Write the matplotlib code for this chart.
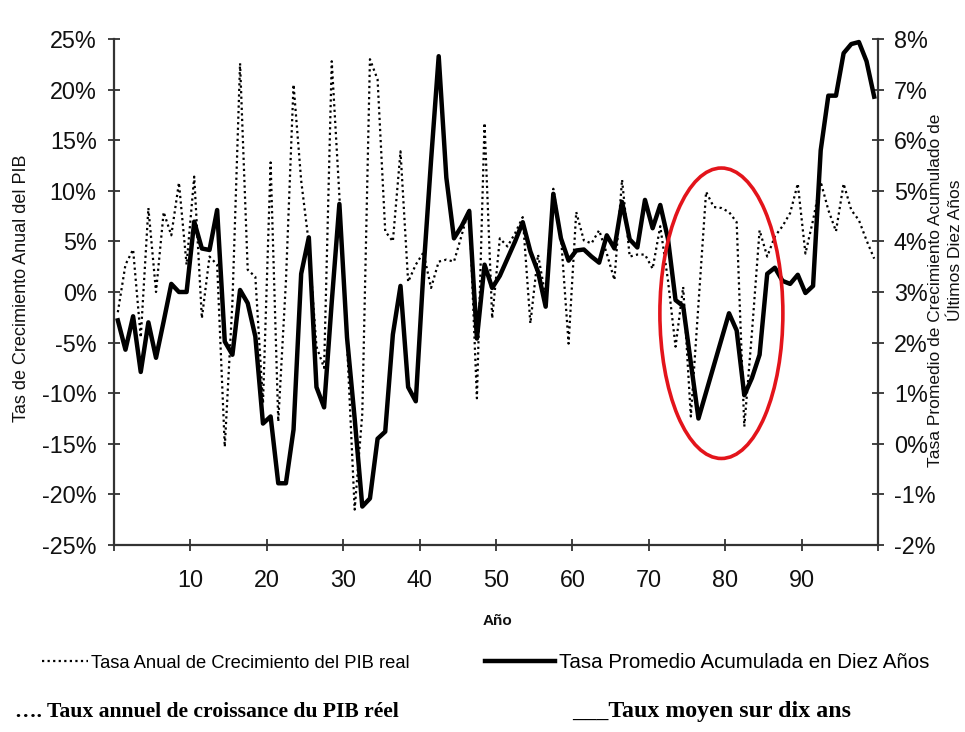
import matplotlib
matplotlib.use('Agg')
import matplotlib.pyplot as plt
from matplotlib.patches import Ellipse
from matplotlib import font_manager

# ---------------- data ----------------
years = list(range(100))  # category index (0..99)

annual_growth = [  # Tasa Anual de Crecimiento del PIB real (%), left axis
    -2.0, 2.7, 4.2, -4.5, 8.3, 0.0, 7.9, 5.6, 10.8, 2.7,
    11.4, -2.6, 3.5, 2.7, -15.3, -1.0, 22.6, 2.2, 1.5, -11.0,
    12.8, -12.8, 1.0, 20.5, 11.0, 4.8, -5.4, -7.5, 22.8, 9.5,
    -5.0, -21.5, -12.0, 23.0, 21.0, 6.0, 5.0, 13.9, 1.0, 2.7,
    3.9, 0.4, 3.0, 3.2, 3.0, 5.6, 8.3, -10.5, 16.7, -2.6,
    5.3, 4.5, 5.8, 7.4, -3.1, 3.7, -0.5, 10.2, 5.5, -5.1,
    7.9, 5.1, 4.8, 6.1, 3.8, 1.2, 11.1, 3.5, 3.7, 3.7,
    2.3, 6.5, 1.2, -5.4, 0.5, -12.3, -1.2, 9.9, 8.4, 8.3,
    7.9, 6.9, -13.3, -4.0, 6.1, 3.5, 5.5, 6.5, 7.8, 10.7,
    3.8, 7.1, 10.9, 8.1, 6.0, 10.7, 8.1, 7.1, 5.1, 3.3,
]

ten_year_avg = [  # Tasa Promedio Acumulada en Diez Años (%), right axis
    2.44, 1.86, 2.52, 1.42, 2.40, 1.70, 2.42, 3.16, 3.00, 3.00,
    4.39, 3.86, 3.83, 4.62, 2.02, 1.76, 3.04, 2.78, 2.12, 0.40,
    0.54, -0.78, -0.78, 0.28, 3.36, 4.08, 1.12, 0.72, 2.80, 4.74,
    2.10, 0.50, -1.24, -1.08, 0.10, 0.24, 2.16, 3.12, 1.12, 0.84,
    3.40, 5.60, 7.66, 5.26, 4.06, 4.30, 4.60, 2.08, 3.54, 3.08,
    3.32, 3.66, 4.00, 4.38, 3.80, 3.40, 2.71, 4.94, 4.06, 3.62,
    3.82, 3.84, 3.70, 3.58, 4.12, 3.86, 4.78, 4.04, 3.88, 4.82,
    4.26, 4.72, 4.06, 2.84, 2.72, 1.60, 0.50, 1.02, 1.54, 2.06,
    2.58, 2.24, 0.96, 1.30, 1.76, 3.36, 3.48, 3.22, 3.16, 3.34,
    2.98, 3.12, 5.80, 6.88, 6.88, 7.72, 7.90, 7.94, 7.56, 6.86,
]

left_ticks = list(range(-25, 30, 5))
right_ticks = list(range(-2, 9, 1))
x_ticks = list(range(0, 101, 10))
x_ticklabels = [''] + [str(v) for v in range(10, 100, 10)] + ['']

label_annual = 'Tasa Anual de Crecimiento del PIB real'
label_avg = 'Tasa Promedio Acumulada en Diez Años'
ylabel_left = 'Tas de Crecimiento Anual del PIB'
ylabel_right_1 = 'Tasa Promedio de Crecimiento Acumulado de'
ylabel_right_2 = 'Últimos Diez Años'
xlabel = 'Año'
fr_annual = '…. Taux annuel de croissance du PIB réel'
fr_avg = '___Taux moyen sur dix ans'

# highlight ellipse (in right-axis data units)
ell_center = (79.5, 2.58)
ell_width = 16.1
ell_height = 5.74

# ---------------- style ----------------
names = {f.name for f in font_manager.fontManager.ttflist}
SANS = 'Liberation Sans' if 'Liberation Sans' in names else 'DejaVu Sans'
SERIF = 'Liberation Serif' if 'Liberation Serif' in names else 'DejaVu Serif'
plt.rcParams['font.family'] = [SANS, 'DejaVu Sans']

W, H = 965, 732
fig = plt.figure(figsize=(W / 100, H / 100), dpi=100)
ax = fig.add_axes([114 / W, 1 - 545 / H, (878 - 114) / W, (545 - 39) / H])
ax2 = ax.twinx()

xs = [c + 0.5 for c in years]
l1, = ax.plot(xs, annual_growth, color='black', lw=1.6, ls=(0, (1.0, 1.5)))
l2, = ax2.plot(xs, ten_year_avg, color='black', lw=3.2, solid_joinstyle='round')

ax.set_xlim(0, 100)
ax.set_ylim(-25, 25)
ax2.set_ylim(-2, 8)
ax.set_yticks(left_ticks)
ax.set_yticklabels([f'{v}%' for v in left_ticks])
ax2.set_yticks(right_ticks)
ax2.set_yticklabels([f'{v}%' for v in right_ticks])
ax.set_xticks(x_ticks)
ax.set_xticklabels(x_ticklabels)

spine_c = '#333333'
for a in (ax, ax2):
    a.spines['top'].set_visible(False)
    for s in a.spines.values():
        s.set_color(spine_c)
        s.set_linewidth(1.6)
ax.spines['right'].set_visible(False)
ax2.spines['left'].set_visible(False)
ax2.spines['bottom'].set_visible(False)

tick_fs = 16.8
ax.tick_params(axis='y', direction='inout', length=9, width=1.3, color=spine_c,
               labelsize=tick_fs, pad=8, labelcolor='#111111')
ax.tick_params(axis='x', direction='inout', length=9, width=1.3, color=spine_c,
               labelsize=tick_fs, pad=13, labelcolor='#111111')
ax2.tick_params(axis='y', direction='inout', length=9, width=1.3, color=spine_c,
                labelsize=tick_fs, pad=7, labelcolor='#111111')

ell = Ellipse(ell_center, ell_width, ell_height, fill=False, edgecolor='#e3141b', lw=2.6, zorder=5)
ax2.add_patch(ell)

fig.text(22 / W, 1 - 288 / H, ylabel_left, rotation=90, ha='center', va='center', fontsize=13, color='#111111')
fig.text(936 / W, 1 - 290 / H, ylabel_right_1, rotation=90, ha='center', va='center', fontsize=12.5,
         color='#111111')
fig.text(955 / W, 1 - 250 / H, ylabel_right_2, rotation=90, ha='center', va='center', fontsize=12.5,
         color='#111111')
fig.text(497 / W, 1 - 621 / H, xlabel, ha='center', va='center', fontsize=11, fontweight='bold', color='#111111')

leg_fs = 13.2
fs_px = leg_fs * 100 / 72

leg1 = fig.legend([l1], [label_annual], loc='center left', bbox_to_anchor=(42 / W, 1 - 663 / H),
                  frameon=False, borderpad=0, borderaxespad=0, handlelength=46 / fs_px,
                  handletextpad=3 / fs_px, prop={'family': SANS, 'size': leg_fs})
leg2_fs = 14.8
fs2_px = leg2_fs * 100 / 72
leg2 = fig.legend([l2], [label_avg], loc='center left', bbox_to_anchor=(485 / W, 1 - 663 / H),
                  frameon=False, borderpad=0, borderaxespad=0, handlelength=70 / fs2_px,
                  handletextpad=4 / fs2_px, prop={'family': SANS, 'size': leg2_fs})

fig.text(15 / W, 1 - 712 / H, fr_annual, ha='left', va='center', fontsize=15.6, fontweight='bold', family=SERIF)
fig.text(572 / W, 1 - 712 / H, fr_avg, ha='left', va='center', fontsize=17.2, fontweight='bold', family=SERIF)

fig.savefig('out.png', dpi=100, facecolor='white')
